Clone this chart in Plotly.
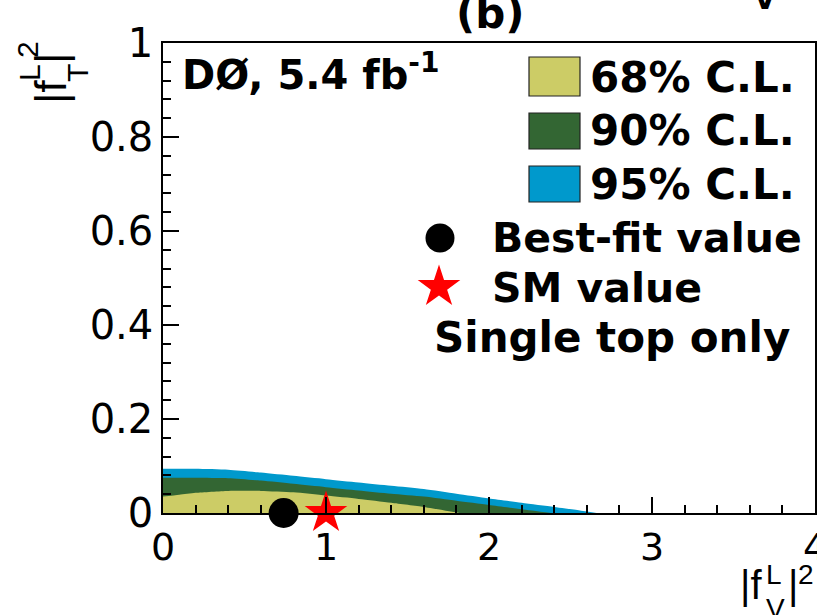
import plotly.graph_objects as go

# ---------------- data ----------------
cl95_x = [0, 0.2, 0.4, 0.6, 0.8, 1.0, 1.2, 1.4, 1.6, 1.8, 2.0, 2.2, 2.4, 2.55, 2.66]
cl95_y = [0.094, 0.094, 0.092, 0.086, 0.079, 0.072, 0.065, 0.058, 0.051, 0.041, 0.031, 0.022, 0.013, 0.006, 0.0]

cl90_x = [0, 0.2, 0.4, 0.6, 0.8, 1.0, 1.2, 1.4, 1.6, 1.8, 2.0, 2.2, 2.38]
cl90_y = [0.075, 0.075, 0.074, 0.069, 0.062, 0.055, 0.048, 0.041, 0.035, 0.026, 0.017, 0.008, 0.0]

cl68_x = [0, 0.1, 0.2, 0.4, 0.6, 0.8, 1.0, 1.2, 1.4, 1.6, 1.72, 1.82]
cl68_y = [0.035, 0.039, 0.043, 0.047, 0.047, 0.044, 0.037, 0.030, 0.022, 0.013, 0.006, 0.0]

best_fit = (0.74, 0.0)
sm_value = (1.0, 0.0)

x_ticks = [0, 1, 2, 3, 4]
y_ticks = [0, 0.2, 0.4, 0.6, 0.8, 1]
y_tick_labels = ["0", "0.2", "0.4", "0.6", "0.8", "1"]

C68, C90, C95 = "#cccc66", "#336633", "#0099cc"
FONT = "DejaVu Sans"
TFONT = "Liberation Sans"

W, H = 817, 615
L, R, T, B = 163, 2, 43, 102
PW, PH = W - L - R, H - T - B


def px2x(px):
    return (px - L) / PW


def py2y(py):
    return (H - B - py) / PH


fig = go.Figure()
for xs, ys, c in [(cl95_x, cl95_y, C95), (cl90_x, cl90_y, C90), (cl68_x, cl68_y, C68)]:
    fig.add_trace(go.Scatter(x=xs, y=ys, mode="lines", fill="tozeroy",
                             fillcolor=c, line=dict(width=0, color=c, shape="spline", smoothing=0.6),
                             hoverinfo="skip", showlegend=False))

fig.add_trace(go.Scatter(x=[best_fit[0]], y=[best_fit[1]], mode="markers",
                         marker=dict(symbol="circle", size=30, color="black"),
                         cliponaxis=False, showlegend=False))
fig.add_trace(go.Scatter(x=[sm_value[0]], y=[sm_value[1]], mode="markers",
                         marker=dict(symbol="star", size=32, color="red", line=dict(width=0)),
                         cliponaxis=False, showlegend=False))

# legend markers on an overlay (paper-like) axis
fig.add_trace(go.Scatter(x=[px2x(440)], y=[py2y(238)], xaxis="x2", yaxis="y2", mode="markers",
                         marker=dict(symbol="circle", size=29, color="black"),
                         cliponaxis=False, showlegend=False))
fig.add_trace(go.Scatter(x=[px2x(439)], y=[py2y(287)], xaxis="x2", yaxis="y2", mode="markers",
                         marker=dict(symbol="star", size=32, color="red", line=dict(width=0)),
                         cliponaxis=False, showlegend=False))

# legend boxes
for (y0, y1, c) in [(57, 96, C68), (113, 149, C90), (166, 202, C95)]:
    fig.add_shape(type="rect", xref="paper", yref="paper",
                  x0=px2x(529), x1=px2x(580), y0=py2y(y1), y1=py2y(y0),
                  fillcolor=c, line=dict(color="#222", width=1.2))

ann = []


def text(s, px, py, size=41, bold=True, xanchor="left", angle=0, family=FONT):
    ann.append(dict(text=s, x=px2x(px), y=py2y(py), xref="paper", yref="paper",
                    xanchor=xanchor, yanchor="middle", showarrow=False, textangle=angle,
                    font=dict(family=family, size=size, color="black",
                              weight="bold" if bold else "normal")))


text("68% C.L.", 588, 77, size=42)
text("90% C.L.", 588, 130, size=42)
text("95% C.L.", 588, 184, size=42)
text("Best-fit value", 490, 238)
text("SM value", 490, 288)
text("Single top only", 432, 337, size=42)
text("DØ, 5.4 fb<sup>-1</sup>", 180, 72, size=40)
text("(b)", 490, 13, size=42, xanchor="center")
text("V", 765, 0, size=28, xanchor="center")

# y-axis title |f^L_T|^2 (rotated, pieces stacked like the original)
text("|f", 50, 92, size=44, bold=False, xanchor="center", angle=-90, family=TFONT)
text("L", 29, 73, size=30, bold=False, xanchor="center", angle=-90, family=TFONT)
text("T", 77, 73, size=30, bold=False, xanchor="center", angle=-90, family=TFONT)
text("|", 50, 59, size=44, bold=False, xanchor="center", angle=-90, family=TFONT)
text("2", 28, 50, size=30, bold=False, xanchor="center", angle=-90, family=TFONT)

# x-axis title |f^L_V|^2
text("|f", 751, 585, size=40, bold=False, xanchor="center", family=TFONT)
text("L", 774, 574, size=28, bold=False, xanchor="center", family=TFONT)
text("V", 775, 608, size=28, bold=False, xanchor="center", family=TFONT)
text("|", 793, 585, size=40, bold=False, xanchor="center", family=TFONT)
text("2", 806, 574, size=28, bold=False, xanchor="center", family=TFONT)

fig.update_layout(
    width=W, height=H, margin=dict(l=L, r=R, t=T, b=B, autoexpand=False),
    paper_bgcolor="white", plot_bgcolor="white",
    font=dict(family=FONT, color="black"),
    annotations=ann,
    xaxis=dict(range=[0, 4], tickvals=x_ticks, ticktext=[str(v) for v in x_ticks],
               ticks="inside", ticklen=16, tickwidth=1.5, tickcolor="black",
               minor=dict(dtick=0.2, ticks="inside", ticklen=8, tickwidth=1.5, tickcolor="black"),
               showline=True, linecolor="black", linewidth=1.5, mirror=True,
               showgrid=False, zeroline=False, automargin=False, ticklabeloverflow="allow",
               tickfont=dict(family=FONT, size=38)),
    yaxis=dict(range=[0, 1], tickvals=y_ticks, ticktext=y_tick_labels,
               ticks="inside", ticklen=16, tickwidth=1.5, tickcolor="black",
               minor=dict(dtick=0.04, ticks="inside", ticklen=8, tickwidth=1.5, tickcolor="black"),
               showline=True, linecolor="black", linewidth=1.5, mirror=True,
               showgrid=False, zeroline=False, automargin=False, ticklabeloverflow="allow",
               tickfont=dict(family=FONT, size=40)),
    xaxis2=dict(range=[0, 1], overlaying="x", visible=False, fixedrange=True),
    yaxis2=dict(range=[0, 1], overlaying="y", visible=False, fixedrange=True),
    showlegend=False,
)

fig.write_html("out.html", config={"displayModeBar": False},
               post_script="document.body.style.margin='0px';document.body.style.overflow='hidden';")
